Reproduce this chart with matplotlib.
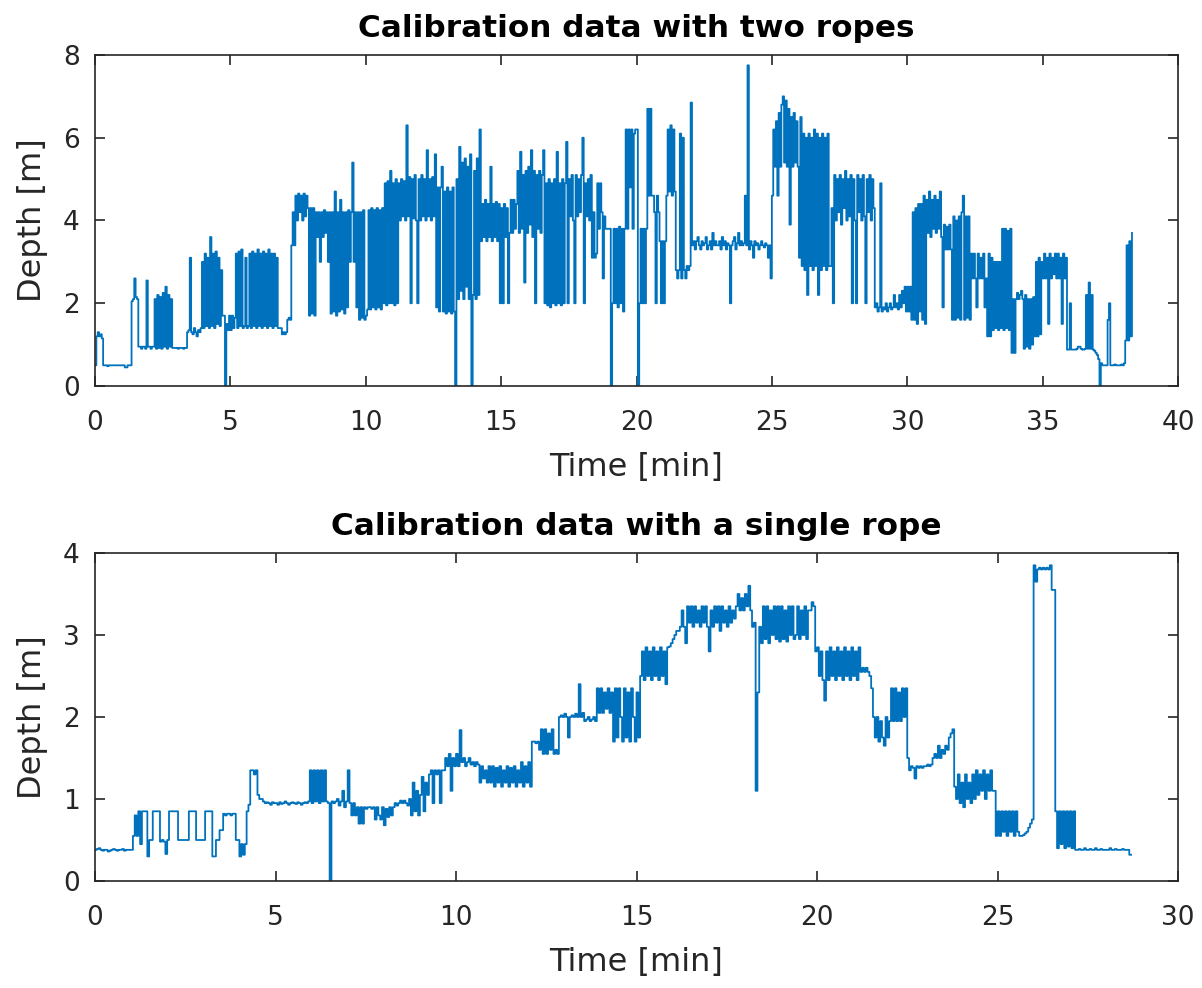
import numpy as np
import matplotlib
matplotlib.use("Agg")
import matplotlib.pyplot as plt

# ---------------- data ----------------
# Two ropes: depth sampled every 0.05 min from 0.0 to 38.3 min (one row = 0.5 min)
t_two_step = 0.05
depth_two = [
    0.5, 1.2, 1.3, 1.2, 1.25, 1.15, 0.5, 0.5, 0.5, 0.48,
    0.5, 0.5, 0.5, 0.5, 0.5, 0.5, 0.5, 0.5, 0.5, 0.5,
    0.5, 0.5, 0.45, 0.45, 0.5, 0.5, 0.5, 2.05, 2.1, 2.6,
    2.15, 2.1, 0.95, 0.95, 0.9, 0.95, 0.95, 0.9, 2.55, 0.95,
    0.95, 0.9, 0.95, 0.95, 2.1, 0.9, 2.2, 0.92, 2.15, 0.9,
    2.25, 0.95, 2.4, 0.9, 2.2, 0.95, 2.1, 0.92, 0.92, 0.92,
    0.92, 0.9, 0.92, 0.92, 0.92, 0.9, 0.92, 0.92, 1.3, 1.35,
    3.1, 1.3, 1.25, 1.4, 1.3, 1.2, 1.35, 1.3, 1.4, 3.0,
    1.4, 3.2, 1.45, 3.1, 1.4, 3.6, 1.45, 3.2, 1.4, 3.25,
    1.5, 3.1, 1.45, 2.8, 1.7, 1.7, 0.0, 1.5, 1.35, 1.7,
    1.35, 1.7, 1.4, 1.65, 3.2, 1.4, 3.25, 1.45, 3.3, 1.4,
    1.45, 3.1, 1.4, 1.45, 3.2, 1.4, 3.25, 1.45, 3.2, 1.4,
    3.3, 1.45, 3.2, 1.4, 3.25, 1.45, 3.2, 1.4, 3.3, 1.45,
    3.2, 1.4, 3.2, 1.45, 3.1, 1.4, 1.4, 1.4, 1.25, 1.3,
    1.25, 1.3, 1.6, 1.65, 1.6, 3.4, 4.2, 3.4, 4.6, 4.0,
    4.65, 4.2, 4.6, 4.0, 4.65, 4.1, 4.6, 4.3, 1.7, 4.3,
    1.75, 4.3, 1.7, 4.2, 3.6, 4.2, 3.0, 4.2, 3.6, 4.25,
    3.7, 4.2, 3.0, 4.2, 1.75, 4.2, 1.8, 4.7, 1.7, 4.2,
    1.8, 4.5, 1.85, 4.2, 1.75, 4.2, 1.9, 4.25, 3.0, 4.2,
    5.4, 3.0, 4.2, 1.9, 4.2, 1.6, 4.2, 1.65, 4.25, 1.6,
    1.7, 1.85, 4.25, 1.85, 4.3, 1.9, 4.25, 1.85, 4.3, 1.9,
    4.25, 1.85, 4.3, 2.0, 4.9, 1.95, 4.95, 2.0, 5.2, 2.0,
    4.9, 1.95, 5.0, 2.0, 4.9, 4.0, 5.0, 4.1, 4.95, 4.0,
    6.3, 4.1, 5.05, 2.0, 5.0, 4.05, 5.1, 4.0, 2.0, 5.0,
    4.0, 5.1, 4.1, 5.0, 4.0, 5.7, 4.1, 5.0, 4.0, 5.05,
    4.1, 5.6, 1.9, 4.8, 1.8, 4.8, 5.3, 1.8, 4.7, 1.75,
    4.8, 1.8, 4.7, 1.75, 4.8, 1.8, 0.0, 5.0, 2.1, 5.78,
    2.3, 5.4, 2.1, 5.5, 2.4, 5.3, 2.1, 5.6, 0.0, 2.2,
    5.2, 2.1, 5.5, 2.2, 6.2, 3.5, 4.4, 3.6, 4.5, 3.5,
    4.4, 3.6, 5.3, 3.5, 4.4, 3.6, 4.45, 3.5, 4.4, 2.0,
    4.3, 2.0, 4.4, 3.6, 4.3, 2.0, 3.7, 4.5, 3.7, 4.5,
    3.8, 4.4, 5.2, 3.7, 5.66, 3.8, 5.1, 2.5, 5.2, 3.7,
    5.3, 3.9, 5.7, 3.6, 5.2, 2.0, 5.1, 3.8, 5.2, 3.7,
    5.1, 5.7, 2.0, 4.9, 1.95, 5.0, 1.9, 4.9, 2.0, 5.0,
    1.95, 5.66, 2.0, 4.9, 1.95, 5.0, 2.0, 4.9, 5.9, 2.0,
    5.0, 4.1, 5.1, 4.0, 2.0, 5.1, 4.1, 5.0, 4.2, 5.1,
    6.0, 2.0, 4.9, 4.1, 5.0, 4.0, 5.1, 3.1, 4.2, 3.1,
    3.2, 4.9, 3.8, 4.9, 4.2, 2.6, 4.1, 3.8, 3.8, 3.8,
    3.8, 0.0, 2.0, 3.8, 2.0, 3.8, 1.9, 3.85, 2.0, 3.8,
    1.8, 3.8, 6.2, 3.8, 6.2, 4.8, 6.2, 3.8, 6.1, 6.2,
    6.2, 0.0, 2.0, 3.8, 2.0, 3.8, 2.0, 3.8, 6.7, 4.6,
    6.7, 4.6, 4.6, 4.2, 2.0, 4.6, 4.2, 3.5, 2.0, 3.5,
    2.0, 3.5, 4.6, 6.2, 4.7, 6.3, 4.6, 6.2, 4.7, 2.8,
    2.6, 2.8, 6.1, 2.6, 6.0, 2.8, 2.6, 2.9, 2.8, 2.9,
    6.85, 3.4, 3.5, 3.3, 3.5, 3.6, 3.4, 3.3, 3.5, 3.4,
    3.45, 3.6, 3.3, 3.4, 3.5, 3.3, 3.7, 3.4, 3.5, 3.4,
    3.4, 3.5, 3.3, 3.6, 3.4, 3.5, 3.3, 3.45, 3.4, 2.0,
    3.4, 3.5, 3.6, 3.3, 3.45, 3.7, 3.4, 3.5, 3.4, 3.45,
    4.6, 3.4, 7.75, 3.3, 3.5, 3.4, 3.1, 3.5, 3.4, 3.45,
    3.3, 3.4, 3.5, 3.4, 3.35, 3.45, 3.4, 3.1, 3.4, 2.6,
    4.6, 6.2, 5.3, 6.4, 4.6, 6.6, 5.3, 6.8, 7.0, 5.4,
    6.9, 5.3, 6.7, 3.9, 6.5, 5.3, 6.6, 5.4, 6.4, 5.3,
    3.1, 6.5, 2.9, 6.1, 2.8, 6.0, 2.2, 6.1, 2.9, 6.0,
    2.8, 6.2, 2.9, 6.1, 2.2, 6.0, 2.8, 6.1, 2.9, 6.0,
    2.8, 6.1, 2.9, 2.9, 4.3, 2.0, 5.1, 4.0, 5.0, 4.2,
    5.1, 3.9, 5.0, 4.3, 5.2, 4.0, 5.0, 4.1, 5.1, 2.0,
    5.0, 4.0, 2.0, 5.1, 4.2, 5.0, 4.0, 5.1, 4.1, 2.0,
    5.0, 4.2, 5.1, 4.0, 5.0, 4.3, 1.9, 2.0, 1.8, 1.9,
    4.9, 1.8, 1.9, 1.85, 2.0, 1.8, 1.9, 2.0, 1.85, 1.9,
    2.2, 1.9, 2.0, 1.85, 2.2, 1.9, 2.3, 2.0, 2.4, 1.8,
    2.4, 1.8, 2.4, 1.6, 4.2, 1.6, 4.3, 1.5, 4.4, 1.8,
    4.4, 1.6, 4.6, 1.5, 4.5, 3.7, 4.7, 3.6, 4.5, 3.8,
    4.6, 3.7, 4.5, 3.8, 4.7, 3.6, 1.9, 3.9, 3.3, 3.85,
    3.3, 3.9, 3.3, 1.6, 4.1, 1.6, 4.0, 1.65, 4.1, 1.6,
    4.2, 4.6, 1.6, 4.1, 1.65, 4.1, 1.6, 3.2, 2.6, 3.2,
    2.6, 1.9, 3.2, 2.6, 3.1, 2.6, 3.2, 1.9, 2.6, 1.2,
    3.2, 1.2, 3.1, 1.35, 3.0, 1.4, 3.0, 1.35, 3.0, 1.4,
    3.8, 1.35, 3.8, 1.4, 3.75, 1.35, 3.8, 0.8, 2.1, 0.8,
    2.1, 2.25, 2.1, 2.2, 2.3, 2.1, 0.9, 2.2, 0.95, 2.1,
    0.9, 2.1, 1.0, 2.15, 1.2, 3.0, 1.2, 3.1, 1.25, 3.0,
    2.6, 3.2, 2.6, 3.1, 1.5, 3.2, 2.6, 3.1, 2.7, 3.2,
    2.6, 3.2, 2.6, 3.1, 1.5, 3.2, 2.6, 3.1, 0.88, 0.88,
    2.0, 0.88, 0.88, 0.88, 0.88, 0.9, 0.95, 0.95, 0.9, 0.88,
    0.88, 0.9, 2.2, 0.9, 2.5, 0.9, 2.2, 0.88, 0.85, 0.8,
    0.75, 0.65, 0.0, 0.55, 0.5, 0.5, 0.5, 0.5, 1.6, 2.0,
    0.5, 0.5, 0.5, 0.52, 0.5, 0.5, 0.5, 0.5, 0.52, 0.5,
    0.55, 1.1, 3.4, 1.1, 3.5, 1.2, 3.7,
]

# Single rope: depth sampled every 0.05 min from 0.0 to 28.7 min (one row = 0.5 min)
t_one_step = 0.05
depth_one = [
    0.38, 0.39, 0.4, 0.38, 0.37, 0.38, 0.38, 0.36, 0.37, 0.38,
    0.39, 0.38, 0.37, 0.38, 0.38, 0.39, 0.37, 0.38, 0.38, 0.38,
    0.38, 0.55, 0.8, 0.55, 0.85, 0.45, 0.85, 0.85, 0.85, 0.3,
    0.5, 0.5, 0.85, 0.85, 0.85, 0.85, 0.48, 0.5, 0.48, 0.33,
    0.5, 0.85, 0.85, 0.85, 0.85, 0.85, 0.5, 0.5, 0.5, 0.5,
    0.5, 0.5, 0.85, 0.85, 0.85, 0.85, 0.5, 0.5, 0.5, 0.5,
    0.5, 0.85, 0.85, 0.85, 0.85, 0.3, 0.3, 0.5, 0.5, 0.62,
    0.62, 0.82, 0.8, 0.82, 0.82, 0.8, 0.82, 0.82, 0.5, 0.5,
    0.3, 0.45, 0.32, 0.45, 0.85, 0.93, 1.35, 1.35, 1.3, 1.35,
    1.05, 1.0, 1.0, 0.97, 0.95, 0.96, 0.95, 0.93, 0.96, 0.95,
    0.95, 0.93, 0.96, 0.94, 0.95, 0.97, 0.95, 0.93, 0.95, 0.96,
    0.95, 0.94, 0.96, 0.95, 0.93, 0.95, 0.96, 0.95, 0.97, 1.35,
    0.95, 1.35, 0.97, 1.35, 0.95, 1.35, 0.97, 1.35, 0.97, 0.95,
    0.0, 0.97, 0.95, 0.97, 1.0, 0.92, 0.97, 1.1, 0.9, 0.97,
    1.35, 0.95, 0.8, 0.95, 0.8, 0.9, 0.7, 0.9, 0.7, 0.9,
    0.88, 0.9, 0.9, 0.88, 0.9, 0.75, 0.9, 0.8, 0.75, 0.9,
    0.68, 0.88, 0.78, 0.9, 0.8, 0.9, 0.95, 0.92, 0.95, 0.98,
    0.95, 0.98, 0.95, 0.92, 1.0, 0.8, 1.2, 0.85, 1.1, 0.8,
    1.05, 1.27, 0.85, 1.2, 1.05, 1.3, 1.35, 0.95, 1.35, 1.3,
    1.35, 0.95, 1.35, 1.35, 1.5, 1.4, 1.55, 1.1, 1.5, 1.4,
    1.55, 1.4, 1.84, 1.45, 1.5, 1.4, 1.45, 1.5, 1.42, 1.45,
    1.4, 1.45, 1.42, 1.2, 1.4, 1.25, 1.35, 1.2, 1.4, 1.2,
    1.4, 1.15, 1.38, 1.2, 1.4, 1.15, 1.35, 1.2, 1.4, 1.15,
    1.38, 1.2, 1.4, 1.15, 1.35, 1.2, 1.45, 1.15, 1.4, 1.2,
    1.45, 1.15, 1.7, 1.7, 1.68, 1.7, 1.6, 1.85, 1.55, 1.85,
    1.55, 1.8, 1.6, 1.85, 1.55, 1.6, 1.55, 2.0, 2.02, 2.0,
    2.04, 2.0, 1.75, 2.0, 2.02, 2.0, 2.04, 2.0, 2.4, 2.0,
    2.05, 1.95, 1.97, 2.0, 1.95, 1.97, 2.0, 1.95, 2.35, 2.05,
    2.35, 2.05, 2.3, 2.1, 2.35, 2.05, 2.3, 1.7, 2.35, 1.75,
    2.35, 2.0, 1.7, 2.35, 1.75, 2.3, 1.7, 2.35, 2.0, 1.7,
    2.3, 1.75, 2.5, 2.8, 2.45, 2.85, 2.5, 2.8, 2.45, 2.85,
    2.5, 2.8, 2.45, 2.85, 2.5, 2.8, 2.4, 2.85, 2.86, 2.9,
    2.95, 3.0, 3.05, 3.05, 3.1, 3.3, 3.1, 2.9, 3.35, 3.15,
    3.35, 3.1, 3.35, 3.15, 3.3, 3.1, 3.35, 3.15, 3.35, 3.1,
    2.8, 3.3, 3.1, 3.35, 3.15, 3.35, 3.05, 3.35, 3.15, 3.3,
    3.1, 3.35, 3.15, 3.3, 3.2, 3.35, 3.5, 3.3, 3.45, 3.3,
    3.5, 3.35, 3.6, 3.3, 3.1, 3.15, 1.1, 2.3, 3.1, 2.9,
    3.35, 2.95, 3.35, 2.9, 3.3, 3.0, 3.35, 2.95, 3.35, 2.92,
    3.35, 2.95, 3.3, 2.92, 3.35, 3.0, 3.35, 2.95, 3.0, 3.35,
    2.95, 3.3, 3.0, 3.35, 2.95, 3.3, 3.3, 3.4, 3.35, 2.8,
    2.85, 2.5, 2.8, 2.45, 2.2, 2.8, 2.45, 2.85, 2.5, 2.8,
    2.45, 2.85, 2.5, 2.8, 2.45, 2.85, 2.5, 2.8, 2.45, 2.85,
    2.5, 2.8, 2.45, 2.85, 2.55, 2.6, 2.55, 2.6, 2.55, 2.5,
    2.35, 2.0, 1.75, 2.0, 1.7, 1.95, 1.75, 1.65, 2.0, 1.75,
    1.95, 2.35, 1.95, 2.35, 1.95, 2.3, 1.95, 2.35, 2.0, 2.35,
    1.5, 1.35, 1.4, 1.38, 1.25, 1.4, 1.38, 1.4, 1.38, 1.4,
    1.4, 1.42, 1.4, 1.42, 1.5, 1.55, 1.5, 1.65, 1.5, 1.6,
    1.55, 1.65, 1.6, 1.75, 1.8, 1.85, 1.15, 1.0, 1.3, 0.95,
    1.2, 0.9, 1.3, 1.0, 1.2, 0.95, 1.3, 1.0, 1.35, 1.05,
    1.3, 1.1, 1.35, 1.0, 1.3, 1.1, 1.35, 1.1, 1.1, 0.55,
    0.85, 0.55, 0.85, 0.6, 0.85, 0.55, 0.85, 0.6, 0.85, 0.55,
    0.85, 0.6, 0.55, 0.55, 0.56, 0.58, 0.6, 0.65, 0.7, 0.75,
    3.85, 3.65, 3.8, 3.82, 3.8, 3.82, 3.8, 3.82, 3.8, 3.85,
    3.55, 3.55, 0.85, 0.4, 0.85, 0.45, 0.85, 0.4, 0.85, 0.42,
    0.85, 0.4, 0.85, 0.38, 0.38, 0.39, 0.38, 0.38, 0.4, 0.38,
    0.38, 0.39, 0.38, 0.38, 0.4, 0.38, 0.38, 0.39, 0.38, 0.38,
    0.38, 0.38, 0.4, 0.38, 0.38, 0.39, 0.38, 0.38, 0.38, 0.39,
    0.38, 0.38, 0.38, 0.32, 0.32,
]

titles = ["Calibration data with two ropes", "Calibration data with a single rope"]
xlabel = "Time [min]"
ylabel = "Depth [m]"
xlims = [(0, 40), (0, 30)]
ylims = [(0, 8), (0, 4)]
xticks = [np.arange(0, 41, 5), np.arange(0, 31, 5)]
yticks = [np.arange(0, 9, 2), np.arange(0, 5, 1)]

# ---------------- drawing ----------------
plt.rcParams['font.family'] = ['DejaVu Sans']
line_color = "#0072BD"
axis_color = "#262626"

fig = plt.figure(figsize=(12.02, 9.88), dpi=100)
ax_top = fig.add_axes([95 / 1202, 1 - 386 / 988, (1178 - 95) / 1202, (386 - 55) / 988])
ax_bot = fig.add_axes([95 / 1202, 1 - 881 / 988, (1178 - 95) / 1202, (881 - 553) / 988])

series = [
    (t_two_step * np.arange(len(depth_two)), np.array(depth_two)),
    (t_one_step * np.arange(len(depth_one)), np.array(depth_one)),
]

for i, ax in enumerate([ax_top, ax_bot]):
    t, d = series[i]
    ax.plot(t, d, color=line_color, lw=1.3, drawstyle="steps-post")
    ax.set_xlim(*xlims[i])
    ax.set_ylim(*ylims[i])
    ax.set_xticks(xticks[i])
    ax.set_yticks(yticks[i])
    ax.set_title(titles[i], fontsize=22.4, fontweight="bold", color="black", pad=13)
    ax.set_xlabel(xlabel, fontsize=23, color=axis_color, labelpad=12)
    ax.set_ylabel(ylabel, fontsize=23, color=axis_color, labelpad=11)
    ax.tick_params(axis="x", pad=17)
    ax.tick_params(axis="y", pad=11)
    ax.tick_params(direction="in", length=7, width=1.2, top=True, right=True,
                   labelsize=19, colors=axis_color)
    for s in ax.spines.values():
        s.set_color(axis_color)
        s.set_linewidth(1.2)

fig.savefig("out.png", dpi=100)
